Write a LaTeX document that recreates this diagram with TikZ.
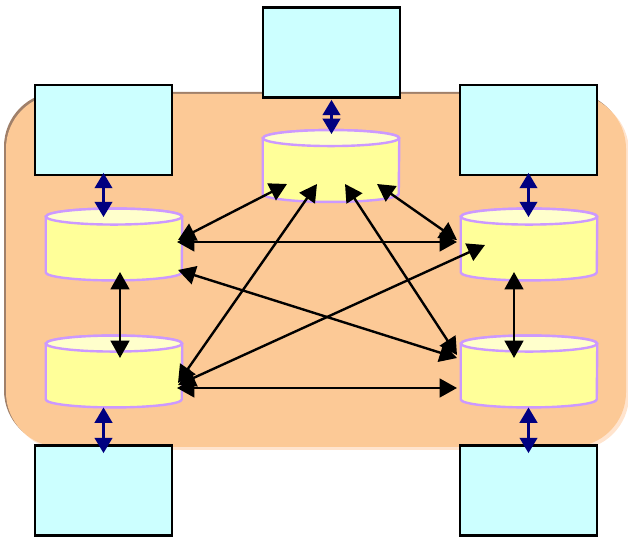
\documentclass[tikz,border=0pt]{standalone}
\usetikzlibrary{arrows.meta,calc}
\definecolor{boxfill}{HTML}{CCFFFF}
\definecolor{cylbody}{HTML}{FFFF99}
\definecolor{cyltop}{HTML}{FFFFCC}
\definecolor{cylborder}{HTML}{CC99FF}
\definecolor{navyc}{HTML}{000080}
\definecolor{zone}{HTML}{FCC996}
\definecolor{zonedark}{HTML}{A0806A}
\definecolor{zonelight}{HTML}{FFE4CE}
\begin{document}
\begin{tikzpicture}[x=0.75pt,y=0.75pt,
  box/.style={draw=black, line width=2pt, fill=boxfill, minimum width=102.75pt, minimum height=67.5pt, inner sep=0pt},
  cylnode/.style={minimum width=102pt, minimum height=53.5pt, inner sep=0pt},
  cylshape/.style={draw=cylborder, line width=1.8pt},
  link/.style={draw=black, line width=1.8pt, {Triangle[length=13pt,width=14pt]}-{Triangle[length=13pt,width=14pt]}},
  navylink/.style={draw=navyc, fill=navyc, line width=2.3pt, {Triangle[length=11.5pt,width=13pt]}-{Triangle[length=11.5pt,width=13pt]}}
]
\useasboundingbox (0,0) rectangle (628,539);
% zone with shading edges
\fill[zonelight, rounded corners=41pt] (9,89) rectangle (629,442);
\fill[zonedark, rounded corners=41pt] (4,94) rectangle (624,447);
\fill[zone, rounded corners=41pt] (6,92) rectangle (626,445);
% boxes
\node[box] (T)  at (331.5,486.5) {};
\node[box] (TL) at (103.5,409) {};
\node[box] (TR) at (528.5,409) {};
\node[box] (BL) at (103.5,48.5) {};
\node[box] (BR) at (528.5,48.5) {};
% cylinders
\node[cylnode] (C0) at (331,373) {};
\node[cylnode] (C1) at (114,294.5) {};
\node[cylnode] (C2) at (529,294.5) {};
\node[cylnode] (C3) at (114,167.5) {};
\node[cylnode] (C4) at (529,167.5) {};
\foreach \n in {C0,C1,C2,C3,C4}{
  \draw[cylshape, fill=cylbody]
    ($(\n.north west)+(0,-8)$) -- ($(\n.south west)+(0,8)$)
    arc[start angle=180, end angle=360, x radius=51pt, y radius=6pt]
    -- ($(\n.north east)+(0,-8)$)
    arc[start angle=0, end angle=180, x radius=51pt, y radius=6pt] -- cycle;
  \draw[cylshape, fill=cyltop] ($(\n.north)+(0,-8)$) ellipse[x radius=51pt, y radius=6pt];
}
% navy links
\draw[navylink] ([yshift=2.6pt]TL.south) -- ([yshift=-6.4pt]TL.south |- C1.north);
\draw[navylink] ([yshift=-0.75pt]T.south) -- ([yshift=-3pt]T.south |- C0.north);
\draw[navylink] ([yshift=2.6pt]TR.south) -- ([yshift=-6.4pt]TR.south |- C2.north);
\draw[navylink] (BL.north |- C3.south) -- ([yshift=-6.75pt]BL.north);
\draw[navylink] (BR.north |- C4.south) -- ([yshift=-6.75pt]BR.north);
% black links
\draw[link] ([shift={(63,2.5)}]C1.center) -- ([shift={(-72,2.5)}]C2.center);
\draw[link] ([shift={(63,-16.5)}]C3.center) -- ([shift={(-72,-16.5)}]C4.center);
\draw[link] ([shift={(-44,-18)}]C0.center) -- ([shift={(64,4.5)}]C1.center);
\draw[link] ([shift={(-14,-18)}]C0.center) -- ([shift={(64,-11.5)}]C3.center);
\draw[link] ([shift={(14,-18)}]C0.center) -- ([shift={(-72,16.5)}]C4.center);
\draw[link] ([shift={(46,-18)}]C0.center) -- ([shift={(-72,4.5)}]C2.center);
\draw[link] ([shift={(64,-13.5)}]C3.center) -- ([shift={(-44,-0.5)}]C2.center);
\draw[link] ([shift={(64,-25.5)}]C1.center) -- ([shift={(-72,13.5)}]C4.center);
\draw[link] ([shift={(6,-27.5)}]C1.center) -- ([shift={(6,13.5)}]C3.center);
\draw[link] ([shift={(-15,-27.5)}]C2.center) -- ([shift={(-15,13.5)}]C4.center);
\end{tikzpicture}
\end{document}
